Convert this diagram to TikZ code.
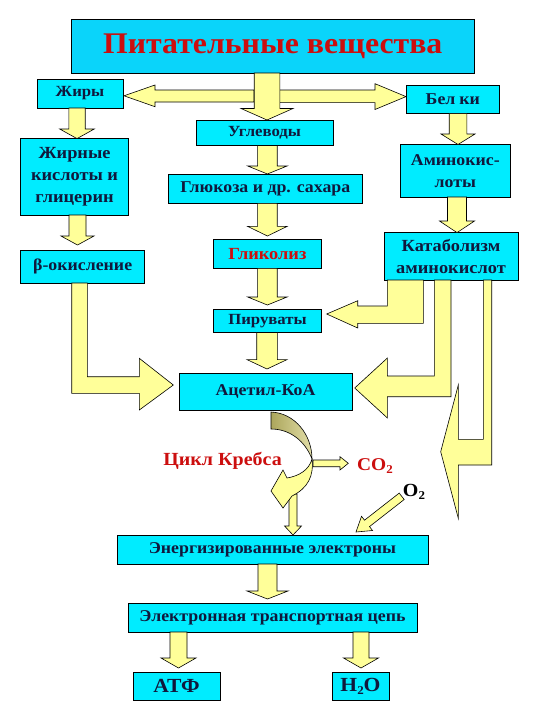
\documentclass[tikz,border=0pt]{standalone}
\usepackage{fontspec}
\setmainfont{Liberation Serif}[FakeStretch=1.08]
\newfontfamily\titlefont{Liberation Serif}[FakeStretch=1.06]
\definecolor{boxcyan}{RGB}{0,236,255}
\definecolor{titlecyan}{RGB}{10,212,250}
\definecolor{arrowyel}{RGB}{255,255,153}
\definecolor{txtred}{RGB}{204,14,14}
\definecolor{txtdark}{RGB}{16,24,60}
\definecolor{olivedk}{RGB}{172,166,92}
\definecolor{olivelt}{RGB}{226,222,168}
\newcommand{\lowsub}[2][11]{\raisebox{-0.35ex}{\fontsize{#1}{#1}\selectfont #2}}
\newcommand{\fs}[1]{\fontsize{#1}{22}\selectfont}
\newcommand{\dnarrow}[6]{% cx, ytop, ybase, ytip, shaft half width, head half width
  \draw[blk] (#1-#5,#2) -- (#1-#5,#3) -- (#1-#6,#3) -- (#1,#4) -- (#1+#6,#3) -- (#1+#5,#3) -- (#1+#5,#2) -- cycle;}
\tikzset{
  box/.style={draw=black, line width=0.7pt, fill=boxcyan, inner sep=0pt, outer sep=0pt,
    anchor=north west, align=center, text=txtdark,
    font=\bfseries\fontsize{16.5}{22}\selectfont},
  blk/.style={draw=black, line width=0.6pt, fill=arrowyel, line join=miter},
  lbl/.style={font=\bfseries\fontsize{18.5}{20}\selectfont, inner sep=0pt}
}
\begin{document}
\begin{tikzpicture}[x=1pt,y=-1pt]
\useasboundingbox (0,0) rectangle (540,720);
\fill[white] (0,0) rectangle (540,720);
% boxes
\node[box, fill=titlecyan, minimum width=403.5pt, minimum height=53.4pt, text=txtred,
  font=\titlefont\bfseries\fontsize{30}{34}\selectfont] (title) at (71,19.6) {Питательные вещества};
\node[box, minimum width=86pt, minimum height=29pt, font=\bfseries\fs{15.5}] (zhiry) at (37,79) {Жиры};
\node[box, minimum width=92.3pt, minimum height=28.6pt] (belki) at (406.7,85) {Бел\kern4ptки};
\node[box, minimum width=137pt, minimum height=25.5pt, font=\bfseries\fs{15.5}] (ugl) at (196,120) {Углеводы};
\node[box, minimum width=107.7pt, minimum height=76.4pt, font=\bfseries\fs{17}] (zhk) at (20.7,138.6) {Жирные\\кислоты и\\глицерин};
\node[box, minimum width=193.3pt, minimum height=29.3pt] (glu) at (168.7,174) {Глюкоза и др. сахара};
\node[box, minimum width=110.7pt, minimum height=52.5pt] (amino) at (400,144.5) {Аминокис-\\лоты};
\node[box, minimum width=134pt, minimum height=47.4pt, font=\bfseries\fs{17}] (catab) at (384,232.6) {Катаболизм\\аминокислот};
\node[box, minimum width=123.9pt, minimum height=32.5pt] (beta) at (20.7,250.5) {β-окисление};
\node[box, minimum width=107.8pt, minimum height=28.9pt, text=txtred, font=\bfseries\fs{17}] (glyc) at (213.5,239.5) {Гликолиз};
\node[box, minimum width=108pt, minimum height=23.5pt, font=\bfseries\fs{15.5}] (pyr) at (213.5,309) {Пируваты};
\node[box, minimum width=173pt, minimum height=36.6pt] (acetyl) at (179,373.4) {Ацетил-КоА};
\node[box, minimum width=311pt, minimum height=29pt] (energ) at (117,535) {Энергизированные электроны};
\node[box, minimum width=289pt, minimum height=29pt] (etc) at (128,603) {Электронная транспортная цепь};
\node[box, minimum width=87pt, minimum height=28pt, font=\bfseries\fs{20}] (atp) at (133,672) {АТФ};
\node[box, minimum width=57pt, minimum height=28pt, font=\bfseries\fs{20}] (h2o) at (332,672) {H\lowsub[12]{2}O};
% horizontal arrows from the title arrow
\draw[blk] (254,90) -- (155,90) -- (155,85) -- (124,95.8) -- (155,106.7) -- (155,102) -- (254,102) -- cycle;
\draw[blk] (279.6,90) -- (375,90) -- (375,83.7) -- (406,96.6) -- (375,109.5) -- (375,102.6) -- (279.6,102.6) -- cycle;
% vertical arrows
\dnarrow{267}{73}{108.5}{120}{12.8}{26}
\dnarrow{77}{108}{129}{138.6}{8.2}{17.3}
\dnarrow{458}{113.6}{134}{144.5}{8.8}{17}
\dnarrow{267.4}{145.5}{166}{174}{9.8}{19.7}
\dnarrow{457}{197}{221}{232.6}{9.5}{17.5}
\dnarrow{77.5}{215}{236}{245}{8.5}{16.5}
\dnarrow{267.4}{203.3}{226.4}{236}{9.8}{19.7}
\dnarrow{267.4}{268.4}{297}{305}{9.8}{19.7}
\dnarrow{267}{332.5}{359.6}{369}{10.3}{20}
\dnarrow{267.5}{564}{591}{599}{9.5}{20.5}
\dnarrow{178.5}{632}{658}{668}{8.5}{17.5}
\dnarrow{361}{632}{658}{668}{8}{17.5}
% bent arrows
\draw[blk] (71.7,283) -- (71.7,393.3) -- (139.3,393.3) -- (139.3,410) -- (173.3,385) -- (139.3,358.3) -- (139.3,376.7) -- (87.3,376.7) -- (87.3,283) -- cycle;
\draw[blk] (387.3,280) -- (387.3,306) -- (357.7,306) -- (357.7,300.7) -- (326.7,314) -- (357.7,328) -- (357.7,323.3) -- (423.3,323.3) -- (423.3,280) -- cycle;
\draw[blk] (434.3,280) -- (434.3,376) -- (387.4,376) -- (387.4,358) -- (354.7,388) -- (387.4,418) -- (387.4,396.7) -- (451,396.7) -- (451,280) -- cycle;
\draw[blk] (483.3,280) -- (483.3,439.3) -- (458.3,439.3) -- (458.3,385) -- (440.7,451.7) -- (458.3,518.3) -- (458.3,465) -- (491.7,465) -- (491.7,280) -- cycle;
% Krebs cycle arrow
\dnarrow{293}{494}{526}{535}{4}{8.5}
\draw[blk] (312,459) .. controls (314,476) and (308,488) .. (292,496) -- (283,508) -- (271,491) -- (283,470) -- (287,478) .. controls (299,476) and (309,470) .. (312,459) -- cycle;
\draw[draw=black, line width=0.6pt, left color=olivedk, right color=olivelt] (271,412) .. controls (295,413) and (312,435) .. (312,459) .. controls (305,441) and (290,429) .. (271,429) -- cycle;
% CO2 arrow
\draw[blk] (313,460) -- (340,460) -- (340,456.7) -- (348.3,463.3) -- (340,470) -- (340,466.7) -- (313,466.7) -- cycle;
% O2 arrow
\draw[blk] (399.2,493.1) -- (364.5,520.2) -- (361.5,516.3) -- (356,532) -- (372.5,530.5) -- (369.5,526.6) -- (404.2,499.5) -- cycle;
% labels
\node[lbl, text=txtred] (krebs) at (222.6,461) {Цикл Кребса};
\node[lbl, text=txtred, font=\bfseries\fontsize{18}{20}\selectfont] (co2) at (375,466) {CO\lowsub[12]{2}};
\node[lbl, text=black] (o2) at (414,492) {O\lowsub[12]{2}};
\end{tikzpicture}
\end{document}
